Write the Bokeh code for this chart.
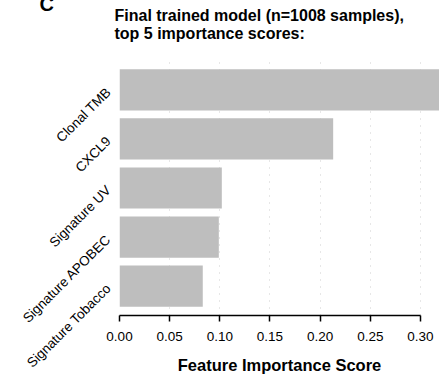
import math
from bokeh.plotting import figure
from bokeh.models import (ColumnDataSource, FactorRange, Range1d, Title,
                          FixedTicker, CustomJSTickFormatter)
from bokeh.embed import file_html
from bokeh.resources import INLINE

# Top 5 feature importance scores of the final trained model
features = ["Clonal TMB", "CXCL9", "Signature UV", "Signature APOBEC", "Signature Tobacco"]
scores = [0.330, 0.213, 0.102, 0.099, 0.083]
x_ticks = [0.00, 0.05, 0.10, 0.15, 0.20, 0.25, 0.30]

FONT = "Liberation Sans"

# bottom-to-top order so that the highest score is drawn on top
order = list(reversed(features))
source = ColumnDataSource(dict(feature=features, score=scores))

p = figure(
    width=439, height=377,
    y_range=FactorRange(factors=order, range_padding=0.1, range_padding_units="absolute"),
    x_range=Range1d(0, 0.319),
    output_backend="svg", toolbar_location=None,
    min_border_left=119, min_border_right=0, min_border_top=60, min_border_bottom=62,
)
p.outline_line_color = None
p.background_fill_color = "white"

p.hbar(y="feature", right="score", left=0, height=0.84, source=source,
       fill_color="#bebebe", line_color=None)

# x axis, drawn only over the tick span
p.xaxis.ticker = FixedTicker(ticks=x_ticks)
p.xaxis.bounds = (0, 0.30)
p.xaxis.formatter = CustomJSTickFormatter(code="return tick.toFixed(2);")
p.xaxis.axis_line_color = "black"
p.xaxis.axis_line_width = 1.5
p.xaxis.major_tick_line_color = "black"
p.xaxis.major_tick_line_width = 1.5
p.xaxis.major_tick_in = 0
p.xaxis.major_tick_out = 6
p.xaxis.minor_tick_line_color = None
p.xaxis.major_label_text_font = FONT
p.xaxis.major_label_text_font_size = "13.5px"
p.xaxis.major_label_text_color = "black"
p.xaxis.major_label_standoff = 10
p.xaxis.axis_label = "Feature Importance Score"
p.xaxis.axis_label_text_font = FONT
p.xaxis.axis_label_text_font_size = "16.5px"
p.xaxis.axis_label_text_font_style = "bold"
p.xaxis.axis_label_text_color = "black"
p.xaxis.axis_label_standoff = 12

# y axis: angled labels only
p.yaxis.axis_line_color = None
p.yaxis.major_tick_line_color = None
p.yaxis.minor_tick_line_color = None
p.yaxis.major_label_orientation = math.pi / 4
p.yaxis.major_label_text_font = FONT
p.yaxis.major_label_text_font_size = "13.5px"
p.yaxis.major_label_text_color = "black"
p.yaxis.major_label_standoff = 5

# dotted vertical grid at the major ticks
p.xgrid.ticker = FixedTicker(ticks=x_ticks)
p.xgrid.grid_line_color = "#cfcfcf"
p.xgrid.grid_line_dash = "1 6"
p.xgrid.grid_line_width = 1
p.ygrid.grid_line_color = None

# two-line title (a blank third line keeps it clear of the bars)
p.add_layout(Title(text="Final trained model (n=1008 samples),\ntop 5 importance scores:\n\u00a0",
                   align="left", offset=-5, vertical_align="bottom", standoff=1,
                   text_font=FONT, text_font_size="16px", text_font_style="bold",
                   text_color="black", text_line_height=1.07), "above")

# panel letter, top-left corner
p.add_layout(Title(text="C", align="left", offset=-80, vertical_align="bottom", standoff=-20,
                   text_font=FONT, text_font_size="20px", text_font_style="bold",
                   text_color="black"), "above")

open("out.html", "w").write(file_html(p, INLINE))
